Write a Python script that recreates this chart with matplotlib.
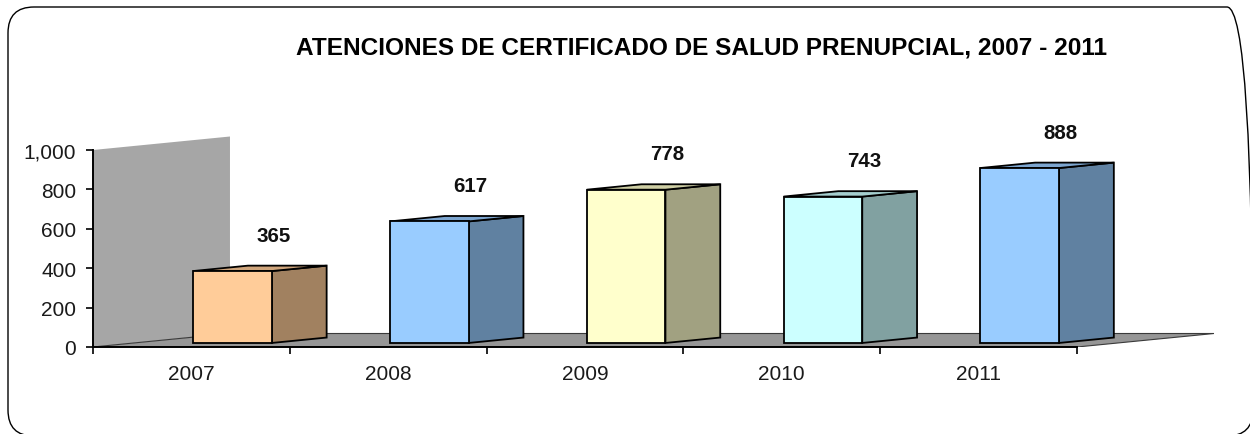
import matplotlib
matplotlib.use("Agg")
import matplotlib.pyplot as plt
from matplotlib.patches import Polygon, FancyBboxPatch
from matplotlib.colors import to_rgb
from matplotlib.transforms import IdentityTransform

years = ["2007", "2008", "2009", "2010", "2011"]
atenciones = [365, 617, 778, 743, 888]
front_colors = ["#FFCC99", "#99CCFF", "#FFFFCC", "#CCFFFF", "#99CCFF"]
y_ticks = [0, 200, 400, 600, 800, 1000]
y_tick_labels = ["0", "200", "400", "600", "800", "1,000"]
title = "ATENCIONES DE CERTIFICADO DE SALUD PRENUPCIAL, 2007 - 2011"

W, H = 1250, 435
PX_CAT = 196.8    # pixels per category
PX_VAL = 0.197    # pixels per value unit
DEPTH = (0.696, 68.5)   # oblique depth vector in data units

plt.rcParams["font.family"] = ["Liberation Sans", "DejaVu Sans"]


def shade(c, f):
    r, g, b = to_rgb(c)
    return (r * f, g * f, b * f)


def proj(x, v, z):
    # oblique projection: category x, value v, depth z (0 front .. 1 back)
    return (x + DEPTH[0] * z, v + DEPTH[1] * z)


fig = plt.figure(figsize=(W / 100, H / 100), dpi=100)
xmax, ymax = 5.8, 1200
ax = fig.add_axes([93 / W, 87 / H, xmax * PX_CAT / W, ymax * PX_VAL / H])
ax.set_xlim(0, xmax)
ax.set_ylim(0, ymax)
ax.patch.set_visible(False)

# side wall and floor
n = len(years)
wall = Polygon([proj(0, 0, 0), proj(0, 1000, 0), proj(0, 1000, 1), proj(0, 0, 1)],
               closed=True, facecolor="#a6a6a6", edgecolor="none", zorder=1)
floor = Polygon([proj(0, 0, 0), proj(n, 0, 0), proj(n, 0, 1), proj(0, 0, 1)],
                closed=True, facecolor="#969696", edgecolor="#3a3a3a", lw=0.8, zorder=1)
ax.add_patch(wall)
ax.add_patch(floor)

# 3d bars
for i, (v, c) in enumerate(zip(atenciones, front_colors)):
    x0, x1 = i + 0.3, i + 0.7
    z0, z1 = 0.3, 0.7
    side = [proj(x1, 0, z0), proj(x1, 0, z1), proj(x1, v, z1), proj(x1, v, z0)]
    top = [proj(x0, v, z0), proj(x1, v, z0), proj(x1, v, z1), proj(x0, v, z1)]
    front = [proj(x0, 0, z0), proj(x1, 0, z0), proj(x1, v, z0), proj(x0, v, z0)]
    for pts, f in [(side, 0.63), (top, 0.81), (front, 1.0)]:
        ax.add_patch(Polygon(pts, closed=True, facecolor=shade(c, f),
                             edgecolor="black", lw=1.3, joinstyle="miter", zorder=3))
    lx, ly = proj(i + 0.5, v, 0.6)
    ax.annotate(str(v), xy=(lx, ly), xytext=(0, 23), textcoords="offset points",
                ha="center", va="center", fontsize=14.8, fontweight="bold",
                color="#111111", zorder=5)

# axes
for s in ["top", "right"]:
    ax.spines[s].set_visible(False)
ax.spines["left"].set_bounds(0, 1000)
ax.spines["bottom"].set_bounds(0, n)
for s in ["left", "bottom"]:
    ax.spines[s].set_linewidth(1.4)
    ax.spines[s].set_zorder(4)

ax.set_yticks(y_ticks)
ax.set_yticklabels(y_tick_labels)
ax.tick_params(axis="y", length=5, width=1.2, pad=7, labelsize=15, labelcolor="#1a1a1a")
ax.set_xticks(range(n + 1))
ax.set_xticklabels([])
ax.set_xticks([i + 0.5 for i in range(n)], minor=True)
ax.set_xticklabels(years, minor=True)
ax.tick_params(axis="x", which="major", length=5, width=1.2)
ax.tick_params(axis="x", which="minor", length=0, pad=12, labelsize=15, labelcolor="#1a1a1a")

fig.text(701 / W, 1 - 54 / H, title, ha="center", va="baseline",
         fontsize=17.6, fontweight="bold", color="black")

# rounded frame (right edge runs just past the canvas)
frame = FancyBboxPatch((8, -2), 1245, H - 8 + 2, boxstyle="round,pad=0,rounding_size=26",
                       transform=IdentityTransform(), facecolor="none",
                       edgecolor="black", lw=1.0)
fig.patches.append(frame)

fig.savefig("out.png", dpi=100)
